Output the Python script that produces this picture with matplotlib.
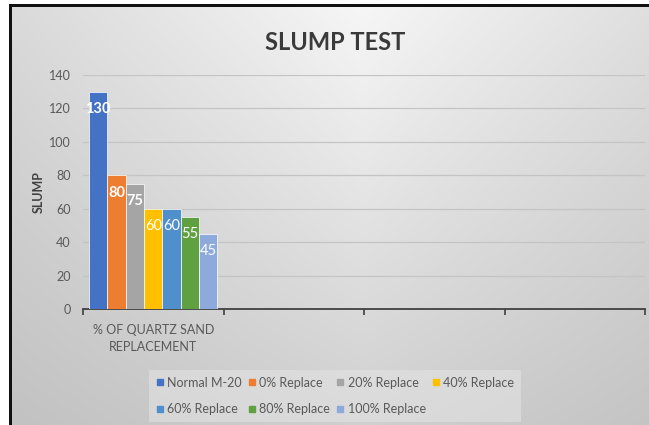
import numpy as np
import matplotlib
matplotlib.use("Agg")
import matplotlib.pyplot as plt
from matplotlib.lines import Line2D
from matplotlib.patches import Rectangle

# ---- data ----
categories = ["% OF QUARTZ SAND\nREPLACEMENT", "", "", ""]
series_names = ["Normal M-20", "0% Replace", "20% Replace", "40% Replace",
                "60% Replace", "80% Replace", "100% Replace"]
series_values = [130, 80, 75, 60, 60, 55, 45]
series_colors = ["#4472C4", "#ED7D31", "#A5A5A5", "#FFC000",
                 "#4F8FCB", "#5FA040", "#8EA9DB"]
y_ticks = [0, 20, 40, 60, 80, 100, 120, 140]

W, H = 649, 425
fig = plt.figure(figsize=(W / 100, H / 100), dpi=100)
fig.patch.set_facecolor("white")

# background gradient
bg = fig.add_axes([12 / W, 0, 1 - 12 / W, 1 - 7 / H], zorder=-10)
yy, xx = np.mgrid[0:1:300j, 0:1:460j]
dx = np.abs(xx - 0.55) / 0.55
val = 0.965 - 0.15 * yy - 0.11 * dx * (1 - 0.5 * yy)
val = np.clip(val, 0, 1)
bg.imshow(np.dstack([val, val, val]), aspect="auto", extent=[0, 1, 0, 1],
          interpolation="bilinear")
bg.set_axis_off()

# frame lines (left & top)
fig.patches.append(Rectangle((9 / W, 0), 3 / W, 1 - 4 / H, transform=fig.transFigure,
                             facecolor="#111111", edgecolor="none", zorder=-5))
fig.patches.append(Rectangle((9 / W, 1 - 7 / H), 1 - 9 / W, 3 / H, transform=fig.transFigure,
                             facecolor="#111111", edgecolor="none", zorder=-5))

ax = fig.add_axes([83 / W, 1 - 309 / H, (645 - 83) / W, (309 - 75) / H])
ax.set_facecolor("none")

n = len(series_values)
group_w = 0.914
bw = group_w / n
for i, (name, v, c) in enumerate(zip(series_names, series_values, series_colors)):
    xc = -group_w / 2 + bw / 2 + i * bw
    ax.bar(xc, v, width=bw, color=c, edgecolor="white", linewidth=0.5,
           label=name, zorder=3)
    ax.annotate(str(v), (xc, v), xytext=(0, -12.5), textcoords="offset points",
                ha="center", va="center", color="white", fontsize=10.5,
                fontweight="bold" if i < 3 else "normal", family="Lato", zorder=4)

ax.set_xlim(-0.5, len(categories) - 0.5)
ax.set_ylim(0, 140)
ax.set_yticks(y_ticks)
ax.set_yticklabels([str(t) for t in y_ticks], family="Lato", fontsize=9, color="#595959")
ax.yaxis.grid(True, color="#c4c4c4", linewidth=0.9, zorder=0)
ax.tick_params(axis="y", length=0, pad=9)

ax.set_xticks(np.arange(len(categories)))
ax.set_xticklabels(categories, family="Lato", fontsize=9, color="#595959",
                   linespacing=1.45)
ax.set_xticks(np.arange(len(categories) + 1) - 0.5, minor=True)
ax.tick_params(axis="x", which="major", length=0, pad=11)
ax.tick_params(axis="x", which="minor", length=4, width=1.2, color="#404040", direction="out")

for s in ["left", "right", "top"]:
    ax.spines[s].set_visible(False)
ax.spines["bottom"].set_color("#404040")
ax.spines["bottom"].set_linewidth(1.3)

ax.set_ylabel("SLUMP", family="Lato", fontsize=9, fontweight="bold", color="#404040",
              labelpad=3)

fig.text(335 / W, 1 - 42 / H, "SLUMP TEST", ha="center", va="center",
         family="Lato", fontsize=17, fontweight="bold", color="#3a3a3a")

# legend: row-major ordering for 4 columns
handles = [Line2D([], [], marker="s", linestyle="none", markersize=5,
                  markerfacecolor=c, markeredgecolor=c) for c in series_colors]
order = [0, 4, 1, 5, 2, 6, 3]
leg = fig.legend([handles[i] for i in order], [series_names[i] for i in order],
                 ncol=4, loc="center", bbox_to_anchor=(335 / W, 1 - 396 / H),
                 prop={"family": "Lato", "size": 9}, frameon=True,
                 handlelength=0.6, handletextpad=0.3, columnspacing=0.5,
                 labelspacing=1.15, borderpad=0.55, fancybox=False)
leg.get_frame().set_facecolor("#e4e4e4")
leg.get_frame().set_alpha(0.55)
leg.get_frame().set_edgecolor("none")
for t in leg.get_texts():
    t.set_color("#595959")

fig.savefig("out.png", dpi=100)
